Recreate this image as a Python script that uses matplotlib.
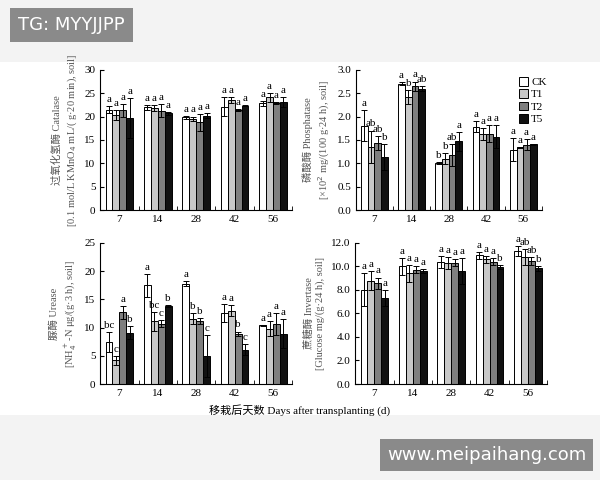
import matplotlib
matplotlib.use('Agg')
import matplotlib.pyplot as plt
import numpy as np
from matplotlib.patches import Rectangle

plt.rcParams['font.family'] = ['Liberation Serif', 'Noto Sans CJK SC']

days = ['7', '14', '28', '42', '56']
treatments = ['CK', 'T1', 'T2', 'T5']
colors = ['white', '#c8c8c8', '#7f7f7f', '#111111']

catalase = [[21.5, 22.0, 19.8, 22.1, 22.8],
            [20.3, 21.8, 19.5, 23.5, 24.1],
            [21.3, 21.2, 18.8, 21.4, 22.9],
            [19.7, 20.7, 20.2, 22.3, 23.1]]
catalase_err = [[0.8, 0.5, 0.3, 2.0, 0.6],
                [1.0, 0.6, 0.5, 0.7, 1.0],
                [1.3, 1.4, 1.8, 0.3, 0.3],
                [4.2, 0.3, 0.5, 0.1, 1.0]]
catalase_let = [['a'] * 5, ['a'] * 5, ['a'] * 5, ['a'] * 5]

phos = [[1.80, 2.70, 1.00, 1.78, 1.29],
        [1.35, 2.42, 1.10, 1.63, 1.34],
        [1.43, 2.65, 1.18, 1.63, 1.40],
        [1.13, 2.60, 1.47, 1.57, 1.41]]
phos_err = [[0.33, 0.03, 0.02, 0.12, 0.25],
            [0.35, 0.15, 0.12, 0.13, 0.01],
            [0.15, 0.10, 0.24, 0.18, 0.12],
            [0.28, 0.06, 0.20, 0.24, 0.01]]
phos_let = [['a', 'a', 'b', 'a', 'a'],
            ['ab', 'b', 'b', 'a', 'a'],
            ['ab', 'a', 'ab', 'a', 'a'],
            ['b', 'ab', 'a', 'a', 'a']]

urease = [[7.4, 17.5, 17.8, 12.6, 10.4],
          [4.2, 11.1, 11.6, 13.0, 9.8],
          [12.7, 10.7, 11.2, 8.9, 10.6],
          [9.1, 13.8, 5.0, 6.1, 8.9]]
urease_err = [[1.8, 2.0, 0.4, 1.6, 0.1],
              [0.8, 1.7, 1.0, 1.0, 1.3],
              [1.1, 0.6, 0.5, 0.4, 2.0],
              [1.1, 0.2, 3.7, 1.0, 2.6]]
urease_let = [['bc', 'a', 'a', 'a', 'a'],
              ['c', 'bc', 'b', 'a', 'a'],
              ['a', 'c', 'b', 'b', 'a'],
              ['b', 'b', 'c', 'c', 'a']]

invert = [[8.0, 10.0, 10.4, 10.95, 11.3],
          [8.8, 9.4, 10.3, 10.6, 10.8],
          [8.55, 9.7, 10.3, 10.4, 10.45],
          [7.3, 9.6, 9.6, 9.95, 9.85]]
invert_err = [[1.4, 0.7, 0.5, 0.3, 0.4],
              [0.8, 0.7, 0.5, 0.3, 0.7],
              [0.5, 0.3, 0.3, 0.3, 0.35],
              [0.7, 0.15, 1.1, 0.2, 0.2]]
invert_let = [['a', 'a', 'a', 'a', 'a'],
              ['a', 'a', 'a', 'a', 'ab'],
              ['a', 'a', 'a', 'a', 'ab'],
              ['a', 'a', 'a', 'b', 'b']]

fig = plt.figure(figsize=(6, 4.8), dpi=100)
fig.patch.set_facecolor('#f3f3f3')
fig.patches.append(Rectangle((0, 1 - 415 / 480), 1, 353 / 480, transform=fig.transFigure,
                             facecolor='white', edgecolor='none', zorder=-5))

panels = [
    ([0.167, 0.5625, 0.32, 0.292], catalase, catalase_err, catalase_let, (0, 30), np.arange(0, 31, 5),
     '过氧化氢酶 Catalase\n[0.1 mol/L KMnO$_4$ mL/( g·20 min), soil]', '{:.0f}'),
    ([0.593, 0.5625, 0.31, 0.292], phos, phos_err, phos_let, (0, 3), np.arange(0, 3.01, 0.5),
     '磷酸酶 Phosphatase\n[×10$^2$ mg/(100 g·24 h), soil]', '{:.1f}'),
    ([0.167, 0.2, 0.32, 0.294], urease, urease_err, urease_let, (0, 25), np.arange(0, 26, 5),
     '脲酶 Urease\n[NH$^+_4$-N μg/(g·3 h), soil]', '{:.0f}'),
    ([0.592, 0.2, 0.32, 0.294], invert, invert_err, invert_let, (0, 12), np.arange(0, 12.1, 2),
     '蔗糖酶 Invertase\n[Glucose mg/(g·24 h), soil]', '{:.1f}'),
]

x = np.arange(len(days))
w = 0.18
for rect, vals, errs, lets, ylim, yt, ylab, fmt in panels:
    ax = fig.add_axes(rect)
    ymax = ylim[1]
    for i in range(4):
        xs = x + (i - 1.5) * w
        ax.bar(xs, vals[i], w, color=colors[i], edgecolor='black', linewidth=0.7,
               label=treatments[i], zorder=2)
        ax.errorbar(xs, vals[i], yerr=errs[i], fmt='none', ecolor='black',
                    elinewidth=0.7, capsize=2, capthick=0.7, zorder=3)
        for j in range(len(days)):
            ax.text(xs[j], vals[i][j] + errs[i][j] + ymax * 0.015, lets[i][j],
                    ha='center', va='bottom', fontsize=8)
    ax.set_xlim(-0.5, 4.5)
    ax.set_ylim(*ylim)
    ax.set_yticks(yt)
    ax.set_yticklabels([fmt.format(v) for v in yt], fontsize=8)
    ax.set_xticks(x)
    ax.set_xticklabels(days, fontsize=8)
    ax.set_xticks(np.arange(-0.5, 4.6, 1), minor=True)
    ax.tick_params(axis='x', which='major', length=0)
    ax.tick_params(axis='x', which='minor', direction='in', length=3)
    ax.tick_params(axis='y', direction='in', length=3)
    ax.spines['top'].set_visible(False)
    ax.spines['right'].set_visible(False)
    ax.set_ylabel(ylab, fontsize=7.5, color='#555555', linespacing=1.3)
    ax.patch.set_alpha(0)
    if vals is phos:
        ax.legend(loc='upper right', bbox_to_anchor=(1.08, 1.02), frameon=False, fontsize=8,
                  handlelength=0.8, handleheight=0.8, handletextpad=0.3, labelspacing=0.2)

fig.text(0.5, 1 - 410 / 480, '移栽后天数 Days after transplanting (d)', ha='center',
         va='center', fontsize=8)

fig.text(0.03, 1 - 25 / 480, 'TG: MYYJJPP', fontsize=13, color='white', va='center',
         family='DejaVu Sans',
         bbox=dict(boxstyle='square,pad=0.45', facecolor='#8a8a8a', edgecolor='none'))
fig.text(0.645, 1 - 455 / 480, 'www.meipaihang.com', fontsize=13, color='white', va='center',
         family='DejaVu Sans',
         bbox=dict(boxstyle='square,pad=0.4', facecolor='#8a8a8a', edgecolor='none'))

fig.savefig('out.png', dpi=100, facecolor=fig.get_facecolor())
